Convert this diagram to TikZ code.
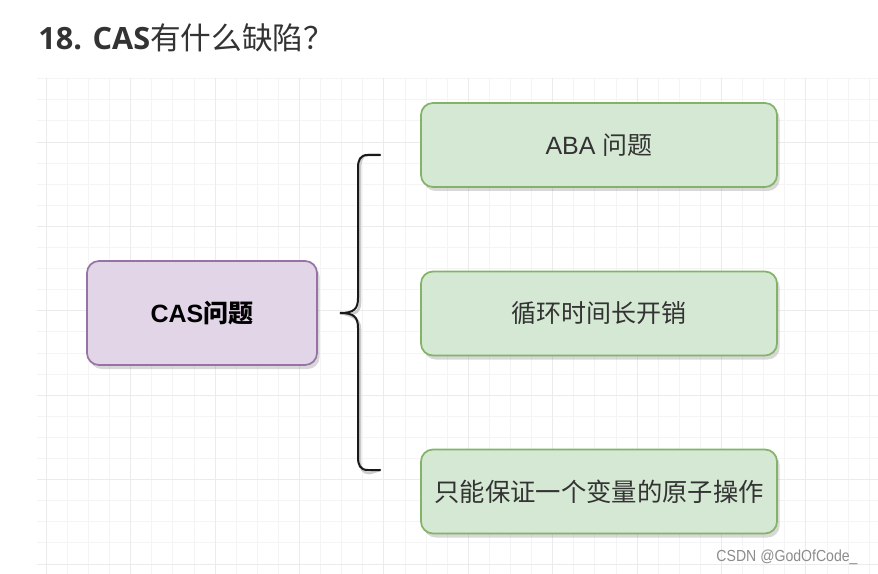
\documentclass[tikz,border=0pt]{standalone}
\usepackage{fontspec}
\setmainfont{Open Sans}
\setsansfont{Liberation Sans}
\newfontfamily\cjk{Noto Sans CJK SC}
\usepackage{tikz}
\usetikzlibrary{shadows}
\definecolor{gridminor}{HTML}{F4F4F4}
\definecolor{gridmajor}{HTML}{EBEBEB}
\definecolor{greenfill}{HTML}{D5E8D4}
\definecolor{greenline}{HTML}{82B366}
\definecolor{purplefill}{HTML}{E1D5E7}
\definecolor{purpleline}{HTML}{9673A6}
\definecolor{textgray}{HTML}{333333}

\begin{document}
\begin{tikzpicture}[x=0.75pt,y=-0.75pt,
    box/.style={rounded corners=9pt,line width=1.3pt,align=center,text=textgray,
        drop shadow={shadow xshift=2pt,shadow yshift=-3pt,opacity=0.25,fill=black!60}},
    issue/.style={box,fill=greenfill,draw=greenline,minimum width=267pt,minimum height=63pt,
        font=\fontsize{18.75}{22}\selectfont},
    problem/.style={box,fill=purplefill,draw=purpleline,minimum width=172.5pt,minimum height=78pt,
        text=black,font=\sffamily\fontsize{18.75}{22}\selectfont\bfseries},
    brace/.style={line width=1.5pt,line cap=round,draw=black!90}]
\useasboundingbox (0,0) rectangle (878,574);
\fill[white] (0,0) rectangle (878,574);
% grid
\foreach \i in {0,...,39}
    {\pgfmathsetmacro{\gx}{46.3+21.1*\i}
    \draw[gridminor,line width=0.7pt] (\gx,78) -- (\gx,574);}
\foreach \i in {0,...,23}
    {\pgfmathsetmacro{\gy}{78.7+21.1*\i}
    \draw[gridminor,line width=0.7pt] (37,\gy) -- (878,\gy);}
\foreach \i in {0,...,9}
    {\pgfmathsetmacro{\gx}{46.3+84.4*\i}
    \draw[gridmajor,line width=0.7pt] (\gx,78) -- (\gx,574);}
\foreach \i in {0,...,5}
    {\pgfmathsetmacro{\gy}{142+84.4*\i}
    \draw[gridmajor,line width=0.7pt] (37,\gy) -- (878,\gy);}
% title
\node[anchor=base west,inner sep=0pt,text=textgray,font=\fontsize{23}{26}\selectfont] (title) at (38,50)
    {\textbf{18. CAS}{\cjk 有什么缺陷？}};
% boxes
\node[problem] (cas) at (202,313) {CAS{\cjk 问题}};
\node[issue] (aba) at (599,145) {\sffamily ABA {\cjk 问题}};
\node[issue] (loop) at (599,313.5) {\cjk 循环时间长开销};
\node[issue,font=\fontsize{19}{24}\selectfont] (atomic) at (599,491.5) {\cjk 只能保证一个变量的原子操作};
% brace
\coordinate (btop) at (380,155);
\coordinate (bmid) at (340,313);
\coordinate (bbot) at (380,470);
\draw[brace,draw=black!20,line width=2pt,shift={(2,3)}] (btop) -- ++(-12,0) .. controls ++(-8,0) and ++(0,-8) .. (358,168) -- (358,298)
    .. controls (358,309) and (354,313) .. (bmid) .. controls (354,313) and (358,317) .. (358,328) -- (358,457)
    .. controls (358,465) and (360,470) .. (368,470) -- (bbot);
\draw[brace] (btop) -- ++(-12,0) .. controls ++(-8,0) and ++(0,-8) .. (358,168) -- (358,298)
    .. controls (358,309) and (354,313) .. (bmid) .. controls (354,313) and (358,317) .. (358,328) -- (358,457)
    .. controls (358,465) and (360,470) .. (368,470) -- (bbot);
% watermark
\node[text=black!45,font=\sffamily\fontsize{12}{14}\selectfont,xscale=0.88,inner sep=0pt] (mark) at (787,557) {CSDN @GodOfCode\_};
\end{tikzpicture}
\end{document}
